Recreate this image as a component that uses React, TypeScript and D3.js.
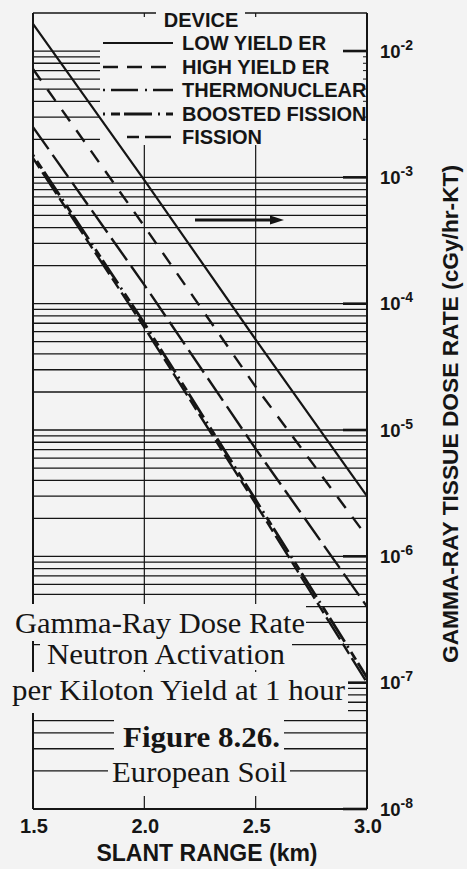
import React from "react";
import * as d3 from "d3";

// ---- data ----
const rangesKm = [1.5, 2.0, 2.5, 3.0];
const lowYieldER = [1.64e-2, 9.5e-4, 5.2e-5, 3.0e-6];
const highYieldER = [7.2e-3, 4.1e-4, 2.2e-5, 1.43e-6];
const thermonuclear = [2.5e-3, 1.41e-4, 7.1e-6, 4.0e-7];
const boostedFission = [1.5e-3, 7.0e-5, 2.8e-6, 1.1e-7];
const fission = [1.42e-3, 6.5e-5, 2.6e-6, 1.0e-7];

const deviceNames = ["LOW YIELD ER", "HIGH YIELD ER", "THERMONUCLEAR", "BOOSTED FISSION", "FISSION"];
const xTicks = [1.5, 2.0, 2.5, 3.0];
const yTickExponents = [-2, -3, -4, -5, -6, -7, -8];
const captionLines = ["Gamma-Ray Dose Rate", "Neutron Activation", "per Kiloton Yield at 1 hour", "Figure 8.26.", "European Soil"];

const W = 467, H = 869;
const BG = "#f3f3f3";
const INK = "#151515";
const SANS = "'Liberation Sans', Arial, Helvetica, sans-serif";
const SERIF = "'Liberation Serif', 'Times New Roman', serif";

export default function App() {
  const x = d3.scaleLinear().domain([1.5, 3.0]).range([33, 367]);
  const y = d3.scaleLog().domain([1e-8, 2e-2]).range([809, 13]);
  const L = x(1.5), R = x(3.0), T = y(2e-2), B = y(1e-8);

  const line = d3.line<number>().x((_, i) => x(rangesKm[i])).y((d) => y(d));

  const series = [
    { name: deviceNames[0], values: lowYieldER, dash: "none", ldash: "none", w: 2.2, lx0: 103, lx1: 173 },
    { name: deviceNames[1], values: highYieldER, dash: "14,11", ldash: "15,9", w: 2.4, lx0: 103, lx1: 173 },
    { name: deviceNames[2], values: thermonuclear, dash: "27,7", ldash: "2,6,27,7", w: 2.4, lx0: 103, lx1: 173 },
    { name: deviceNames[3], values: boostedFission, dash: "2,5,9,4,28,5", ldash: "2,6,9,4,28,6", w: 2.8, lx0: 103, lx1: 173 },
    { name: deviceNames[4], values: fission, dash: "12,5,26,5", ldash: "12,6,26,6", w: 2.4, lx0: 127, lx1: 173 },
  ];

  // full grid lines for decades 1e-8 .. 1e-3
  const grid: number[] = [];
  for (let e = -8; e <= -4; e++) for (let k = 1; k <= 9; k++) grid.push(k * Math.pow(10, e));
  grid.push(1e-3);
  // top decade: only left part (behind legend)
  const topGrid: number[] = [];
  for (let k = 2; k <= 10; k++) topGrid.push(k * 1e-3);

  const boxes = [
    { x0: 8, x1: 306, y0: 604, y1: 641 },
    { x0: 40, x1: 292, y0: 640, y1: 670 },
    { x0: 8, x1: 348, y0: 672, y1: 713 },
    { x0: 114, x1: 284, y0: 713, y1: 758 },
    { x0: 108, x1: 290, y0: 758, y1: 796 },
  ];
  const captions = [
    { t: captionLines[0], x: 15, y: 633, w: 290, bold: false },
    { t: captionLines[1], x: 47, y: 664, w: 238, bold: false },
    { t: captionLines[2], x: 12, y: 700, w: 333, bold: false },
    { t: captionLines[3], x: 123, y: 747, w: 157, bold: true },
    { t: captionLines[4], x: 112, y: 782, w: 175, bold: false },
  ];

  const legendRowY = [43, 67, 90, 114, 137];

  return (
    <svg width={W} height={H} style={{ position: "absolute", left: 0, top: 0, background: BG }}>
      <rect x={0} y={0} width={W} height={H} fill={BG} />
      {/* horizontal grid */}
      {grid.map((v, i) => (
        <line key={"g" + i} x1={L} x2={R} y1={y(v)} y2={y(v)} stroke={INK} strokeWidth={1.3} />
      ))}
      {topGrid.map((v, i) => (
        <line key={"tg" + i} x1={L} x2={100} y1={y(v)} y2={y(v)} stroke={INK} strokeWidth={1.3} />
      ))}
      {/* right minor ticks in top decade */}
      {topGrid.map((v, i) => (
        <line key={"rt" + i} x1={R - 4} x2={R} y1={y(v)} y2={y(v)} stroke={INK} strokeWidth={1} />
      ))}
      {/* major ticks (thicker at right) */}
      {yTickExponents.map((e) => (
        <line key={"mt" + e} x1={R - 24} x2={R} y1={y(Math.pow(10, e))} y2={y(Math.pow(10, e))} stroke={INK} strokeWidth={2.6} />
      ))}
      {/* vertical grid */}
      {[2.0, 2.5].map((v) => (
        <line key={"v" + v} x1={x(v)} x2={x(v)} y1={145} y2={B} stroke={INK} strokeWidth={1.2} />
      ))}
      {[2.0, 2.5].map((v) => (
        <line key={"vt" + v} x1={x(v)} x2={x(v)} y1={T} y2={T + 4} stroke={INK} strokeWidth={1.2} />
      ))}
      {/* frame */}
      <line x1={L} x2={L} y1={T} y2={B} stroke={INK} strokeWidth={2} />
      <line x1={R} x2={R} y1={T} y2={B} stroke={INK} strokeWidth={2} />
      <line x1={L} x2={R} y1={B} y2={B} stroke={INK} strokeWidth={2.2} />
      <line x1={L} x2={156} y1={T} y2={T} stroke={INK} strokeWidth={1.6} />
      <line x1={245} x2={R} y1={T} y2={T} stroke={INK} strokeWidth={1.6} />

      {/* caption boxes */}
      {boxes.map((b, i) => (
        <rect key={"b" + i} x={b.x0} y={b.y0} width={b.x1 - b.x0} height={b.y1 - b.y0} fill={BG} />
      ))}
      {captions.map((c, i) => (
        <text key={"c" + i} x={c.x} y={c.y} fontFamily={SERIF} fontSize={29} fontWeight={c.bold ? "bold" : "normal"}
          fill={INK} textLength={c.w} lengthAdjust="spacingAndGlyphs">{c.t}</text>
      ))}

      {/* curves */}
      {series.map((s) => (
        <path key={s.name} d={line(s.values) || ""} fill="none" stroke={INK} strokeWidth={s.w} strokeDasharray={s.dash} />
      ))}

      {/* legend */}
      <text x={201} y={27} textAnchor="middle" fontFamily={SANS} fontWeight="bold" fontSize={20} fill={INK}>DEVICE</text>
      {series.map((s, i) => (
        <g key={"lg" + i}>
          <line x1={s.lx0} x2={s.lx1} y1={legendRowY[i]} y2={legendRowY[i]} stroke={INK} strokeWidth={s.w} strokeDasharray={s.ldash} />
          <text x={182} y={legendRowY[i] + 7} fontFamily={SANS} fontWeight="bold" fontSize={20} fill={INK}>{s.name}</text>
        </g>
      ))}

      {/* arrow */}
      <line x1={195} x2={272} y1={220} y2={220} stroke={INK} strokeWidth={3} />
      <polygon points="270,215.5 284,220 270,224.5" fill={INK} />

      {/* right axis labels */}
      {yTickExponents.map((e) => {
        const ty = y(Math.pow(10, e));
        return (
          <g key={"yl" + e} fontFamily={SANS} fontWeight="bold" fill={INK}>
            <text x={380} y={ty + 6.5} fontSize={18.5}>10</text>
            <text x={400.5} y={ty - 1.5} fontSize={14}>{"-" + Math.abs(e)}</text>
          </g>
        );
      })}
      {/* x labels */}
      {xTicks.map((v) => (
        <text key={"xl" + v} x={x(v) + 1} y={833} textAnchor="middle" fontFamily={SANS} fontWeight="bold" fontSize={20} fill={INK}>
          {v.toFixed(1)}
        </text>
      ))}
      <text x={207} y={861} textAnchor="middle" fontFamily={SANS} fontWeight="bold" fontSize={23} fill={INK}>SLANT RANGE (km)</text>
      <text transform="translate(458,414) rotate(-90)" textAnchor="middle" fontFamily={SANS} fontWeight="bold" fontSize={22}
        fill={INK} textLength={498} lengthAdjust="spacingAndGlyphs">GAMMA-RAY TISSUE DOSE RATE (cGy/hr-KT)</text>
    </svg>
  );
}
